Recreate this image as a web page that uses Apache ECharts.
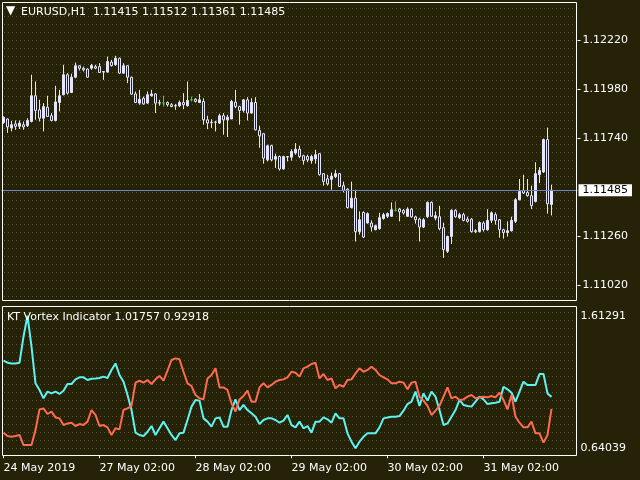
<!DOCTYPE html>
<html><head><meta charset="utf-8">
<script src="https://cdn.jsdelivr.net/npm/echarts@6/dist/echarts.min.js"></script>
<style>html,body{margin:0;padding:0;background:#252208;}#c{width:640px;height:480px;}</style>
</head><body><div id="c"></div>
<script>
// ---------- data ----------
const symbolTitle = 'EURUSD,H1';
const lastOHLC = ['1.11415', '1.11512', '1.11361', '1.11485'];
const indicatorTitle = 'KT Vortex Indicator';
const indicatorLast = ['1.01757', '0.92918'];
const priceTicks = [1.11020, 1.11260, 1.11740, 1.11980, 1.12220];
const currentPrice = 1.11485;
const indicatorTicks = [0.64039, 1.61291];
const timeLabels = {0: '24 May 2019', 24: '27 May 02:00', 48: '28 May 02:00', 72: '29 May 02:00', 96: '30 May 02:00', 120: '31 May 02:00'};
const slotCount = 144;
// [open, close, low, high]
const ohlc = [
[1.11817,1.11842,1.11810,1.11847],[1.11834,1.11795,1.11766,1.11836],[1.11790,1.11806,1.11773,1.11825],[1.11810,1.11798,1.11781,1.11827],
[1.11798,1.11814,1.11785,1.11827],[1.11806,1.11795,1.11781,1.11822],[1.11801,1.11827,1.11795,1.11838],[1.11822,1.11948,1.11817,1.12051],
[1.11948,1.11876,1.11830,1.12018],[1.11879,1.11838,1.11822,1.11928],[1.11838,1.11895,1.11773,1.11912],[1.11892,1.11846,1.11846,1.11948],
[1.11850,1.11827,1.11822,1.11863],[1.11827,1.11918,1.11822,1.11997],[1.11915,1.11948,1.11871,1.11977],[1.11953,1.12051,1.11950,1.12100],
[1.12051,1.11961,1.11953,1.12059],[1.11964,1.12039,1.11961,1.12056],[1.12039,1.12095,1.12034,1.12111],[1.12095,1.12083,1.12072,1.12097],
[1.12083,1.12075,1.12067,1.12091],[1.12079,1.12039,1.12037,1.12083],[1.12083,1.12096,1.12075,1.12104],[1.12091,1.12083,1.12078,1.12100],
[1.12091,1.12062,1.12062,1.12108],[1.12067,1.12064,1.12026,1.12069],[1.12064,1.12116,1.12062,1.12140],[1.12113,1.12096,1.12091,1.12124],
[1.12100,1.12132,1.12095,1.12144],[1.12132,1.12059,1.12056,1.12135],[1.12059,1.12095,1.12056,1.12108],[1.12095,1.12039,1.12010,1.12098],
[1.12039,1.11956,1.11953,1.12042],[1.11957,1.11915,1.11912,1.11969],[1.11912,1.11931,1.11904,1.11977],[1.11936,1.11908,1.11904,1.11944],
[1.11912,1.11953,1.11908,1.11969],[1.11948,1.11957,1.11944,1.11977],[1.11957,1.11912,1.11863,1.11960],[1.11912,1.11914,1.11899,1.11928],
[1.11913,1.11913,1.11895,1.11948],[1.11915,1.11904,1.11895,1.11920],[1.11904,1.11895,1.11892,1.11912],[1.11898,1.11899,1.11879,1.11908],
[1.11899,1.11915,1.11892,1.11925],[1.11915,1.11904,1.11882,1.11961],[1.11899,1.11925,1.11895,1.12018],[1.11928,1.11928,1.11920,1.11944],
[1.11931,1.11920,1.11915,1.11936],[1.11915,1.11928,1.11912,1.11957],[1.11920,1.11830,1.11806,1.11936],[1.11830,1.11814,1.11784,1.11850],
[1.11816,1.11818,1.11790,1.11833],[1.11818,1.11819,1.11773,1.11825],[1.11814,1.11850,1.11810,1.11860],[1.11850,1.11830,1.11757,1.11863],
[1.11830,1.11843,1.11746,1.11855],[1.11834,1.11920,1.11834,1.11928],[1.11917,1.11895,1.11887,1.11977],[1.11895,1.11876,1.11806,1.11899],
[1.11876,1.11928,1.11866,1.11931],[1.11928,1.11863,1.11827,1.11941],[1.11863,1.11915,1.11860,1.11936],[1.11915,1.11781,1.11778,1.11941],
[1.11778,1.11752,1.11693,1.11801],[1.11762,1.11642,1.11615,1.11765],[1.11634,1.11703,1.11626,1.11708],[1.11703,1.11634,1.11626,1.11708],
[1.11637,1.11650,1.11594,1.11664],[1.11650,1.11589,1.11581,1.11655],[1.11589,1.11650,1.11585,1.11654],[1.11650,1.11647,1.11626,1.11651],
[1.11647,1.11675,1.11630,1.11686],[1.11667,1.11686,1.11659,1.11716],[1.11686,1.11650,1.11642,1.11703],[1.11654,1.11630,1.11610,1.11659],
[1.11650,1.11634,1.11622,1.11659],[1.11630,1.11650,1.11615,1.11659],[1.11638,1.11659,1.11615,1.11683],[1.11664,1.11561,1.11556,1.11667],
[1.11566,1.11528,1.11507,1.11568],[1.11541,1.11516,1.11507,1.11561],[1.11538,1.11554,1.11487,1.11571],[1.11551,1.11566,1.11544,1.11585],
[1.11566,1.11503,1.11503,1.11570],[1.11507,1.11484,1.11474,1.11527],[1.11490,1.11400,1.11395,1.11495],[1.11400,1.11446,1.11395,1.11527],
[1.11446,1.11282,1.11233,1.11487],[1.11282,1.11340,1.11267,1.11381],[1.11376,1.11255,1.11250,1.11381],[1.11324,1.11370,1.11321,1.11376],
[1.11324,1.11304,1.11282,1.11337],[1.11291,1.11311,1.11288,1.11316],[1.11296,1.11350,1.11291,1.11374],[1.11346,1.11365,1.11340,1.11374],
[1.11357,1.11370,1.11348,1.11376],[1.11357,1.11389,1.11354,1.11425],[1.11386,1.11386,1.11381,1.11430],[1.11392,1.11379,1.11332,1.11398],
[1.11386,1.11373,1.11365,1.11392],[1.11357,1.11392,1.11354,1.11401],[1.11392,1.11354,1.11350,1.11397],[1.11354,1.11340,1.11321,1.11360],
[1.11343,1.11304,1.11233,1.11350],[1.11304,1.11340,1.11299,1.11348],[1.11355,1.11425,1.11348,1.11430],[1.11425,1.11357,1.11354,1.11430],
[1.11348,1.11360,1.11337,1.11381],[1.11355,1.11296,1.11288,1.11408],[1.11301,1.11193,1.11153,1.11326],[1.11185,1.11258,1.11177,1.11262],
[1.11258,1.11386,1.11221,1.11392],[1.11386,1.11355,1.11350,1.11392],[1.11350,1.11365,1.11343,1.11374],[1.11365,1.11337,1.11332,1.11374],
[1.11343,1.11332,1.11326,1.11355],[1.11343,1.11282,1.11277,1.11348],[1.11282,1.11286,1.11274,1.11294],[1.11282,1.11326,1.11277,1.11332],
[1.11324,1.11291,1.11282,1.11332],[1.11291,1.11337,1.11286,1.11392],[1.11337,1.11374,1.11324,1.11381],[1.11365,1.11337,1.11316,1.11376],
[1.11340,1.11291,1.11252,1.11343],[1.11291,1.11277,1.11247,1.11296],[1.11277,1.11286,1.11257,1.11332],[1.11286,1.11337,1.11282,1.11355],
[1.11332,1.11438,1.11324,1.11446],[1.11438,1.11479,1.11435,1.11540],[1.11484,1.11471,1.11466,1.11561],[1.11474,1.11458,1.11453,1.11540],
[1.11458,1.11409,1.11392,1.11507],[1.11430,1.11566,1.11425,1.11622],[1.11561,1.11582,1.11520,1.11598],[1.11574,1.11733,1.11569,1.11738],
[1.11733,1.11418,1.11370,1.11792],[1.11415,1.11485,1.11361,1.11512]
];
const viPlus = [
1.283,1.268,1.263,1.263,1.268,1.459,1.61291,1.386,1.117,1.068,1.007,1.056,1.043,1.056,1.039,1.063,
1.112,1.112,1.146,1.161,1.161,1.141,1.151,1.153,1.156,1.166,1.156,1.215,1.263,1.178,1.129,1.031,
0.921,0.755,0.738,0.730,0.762,0.804,0.738,0.787,0.836,0.787,0.738,0.701,0.750,0.755,0.848,0.946,
0.995,0.990,0.860,0.836,0.799,0.860,0.867,0.799,0.799,0.921,0.999,0.921,0.958,0.921,0.897,0.872,
0.818,0.848,0.860,0.860,0.848,0.828,0.843,0.885,0.811,0.794,0.836,0.787,0.804,0.755,0.836,0.836,
0.867,0.853,0.828,0.897,0.860,0.860,0.750,0.689,0.64039,0.689,0.725,0.750,0.750,0.750,0.794,0.860,
0.867,0.872,0.872,0.877,0.916,0.965,0.982,1.056,0.951,1.043,0.990,1.056,1.019,0.921,0.811,0.823,
0.872,0.921,0.995,0.958,0.951,0.946,0.982,1.019,0.999,0.965,0.970,0.975,0.982,1.092,1.073,1.048,
0.982,1.056,1.129,1.105,1.105,1.105,1.185,1.185,1.043,1.01757
];
const viMinus = [
0.755,0.730,0.725,0.730,0.738,0.664,0.664,0.664,0.774,0.926,0.933,0.892,0.909,0.867,0.860,0.811,
0.823,0.828,0.804,0.818,0.811,0.836,0.921,0.885,0.804,0.811,0.794,0.738,0.787,0.779,0.921,0.933,
0.951,1.122,1.136,1.122,1.141,1.112,1.146,1.171,1.136,1.210,1.288,1.300,1.293,1.202,1.117,1.097,
1.031,1.007,0.999,1.153,1.178,1.227,1.087,1.087,1.068,0.970,0.909,0.999,1.024,1.063,0.982,0.982,
1.087,1.117,1.087,1.105,1.129,1.141,1.146,1.161,1.202,1.195,1.166,1.227,1.239,1.259,1.268,1.153,
1.185,1.141,1.153,1.080,1.105,1.092,1.141,1.146,1.190,1.227,1.202,1.215,1.239,1.215,1.178,1.161,
1.146,1.117,1.117,1.129,1.122,1.073,1.122,1.129,1.019,0.990,0.951,0.885,0.916,0.951,1.019,1.087,
1.007,1.019,0.995,0.999,1.019,1.031,1.007,1.014,1.019,1.014,1.024,1.014,1.048,0.995,0.926,1.031,
0.872,0.828,0.794,0.794,0.836,0.750,0.750,0.682,0.738,0.92918
];

// ---------- style ----------
const BG = '#252208';
const FG = '#ffffff';
const CANDLE = '#e4e4fb';
const FONT = 'DejaVu Sans';
const cats = Array.from({length: slotCount}, (_, i) => 'b' + i);
const labelAt = (i) => timeLabels[i] !== undefined;

function dotCanvas() {
  const c = document.createElement('canvas');
  c.width = 8; c.height = 8;
  const g = c.getContext('2d');
  g.fillStyle = BG; g.fillRect(0, 0, 8, 8);
  g.fillStyle = '#5a573d';
  g.fillRect(0, 0, 1, 1); g.fillRect(4, 0, 1, 1);
  return c;
}
const pattern = {image: dotCanvas(), repeat: 'repeat'};

const chart = echarts.init(document.getElementById('c'), null, {renderer: 'canvas'});
chart.setOption({
  animation: false,
  backgroundColor: BG,
  textStyle: {fontFamily: FONT},
  grid: [
    {left: 1.5, top: 2, width: 576, height: 299},
    {left: 1.5, top: 315.7, width: 576, height: 132.6}
  ],
  xAxis: [
    {type: 'category', gridIndex: 0, data: cats, boundaryGap: true,
     axisLine: {show: false}, axisTick: {show: false}, axisLabel: {show: false}, splitLine: {show: false}},
    {type: 'category', gridIndex: 1, data: cats, boundaryGap: true, offset: 7,
     axisLine: {show: false},
     axisTick: {show: true, alignWithLabel: true, interval: (i) => labelAt(i), length: 3, lineStyle: {color: FG}},
     axisLabel: {show: true, interval: (i) => labelAt(i), formatter: (v, i) => timeLabels[i] || '',
       align: 'left', color: FG, fontFamily: FONT, fontSize: 11, margin: 7},
     splitLine: {show: false}}
  ],
  yAxis: [
    {type: 'value', gridIndex: 0, position: 'right', min: 1.109415, max: 1.124078,
     axisLine: {show: false}, splitLine: {show: false},
     axisTick: {show: true, length: 3, customValues: priceTicks, lineStyle: {color: FG}},
     axisLabel: {customValues: priceTicks, formatter: (v) => v.toFixed(5), color: FG, fontFamily: FONT, fontSize: 11, margin: 5}},
    {type: 'value', gridIndex: 1, position: 'right', min: indicatorTicks[0], max: indicatorTicks[1],
     axisLine: {show: false}, splitLine: {show: false}, axisTick: {show: false},
     axisLabel: {customValues: indicatorTicks, formatter: (v) => v.toFixed(5), color: FG, fontFamily: FONT, fontSize: 11, margin: 3}}
  ],
  series: [
    {type: 'candlestick', xAxisIndex: 0, yAxisIndex: 0, data: ohlc, barWidth: 3,
     itemStyle: {color: CANDLE, color0: BG, borderColor: CANDLE, borderColor0: CANDLE, borderColorDoji: '#00ff00', borderWidth: 1}},
    {type: 'line', name: 'price', xAxisIndex: 0, yAxisIndex: 0, data: [], symbol: 'none', z: 1,
     markLine: {silent: true, symbol: ['none', 'none'], animation: false, precision: 5,
       lineStyle: {color: '#6d87c6', width: 1, type: 'solid'},
       label: {show: true, position: 'end', formatter: currentPrice.toFixed(5), color: '#000', backgroundColor: '#fff',
         padding: [1, 4, 0, 4], fontFamily: FONT, fontSize: 11, distance: 1},
       data: [{yAxis: currentPrice}]}},
    {type: 'line', xAxisIndex: 1, yAxisIndex: 1, data: viPlus, showSymbol: false, symbol: 'none',
     lineStyle: {color: '#5ef3f0', width: 2}},
    {type: 'line', xAxisIndex: 1, yAxisIndex: 1, data: viMinus, showSymbol: false, symbol: 'none',
     lineStyle: {color: '#ff6b50', width: 2}}
  ],
  graphic: [
    {type: 'rect', z: -10, silent: true, shape: {x: 2, y: 2, width: 575, height: 299}, style: {fill: pattern}},
    {type: 'rect', z: -10, silent: true, shape: {x: 2, y: 306, width: 575, height: 150}, style: {fill: pattern}},
    {type: 'rect', z: 50, silent: true, shape: {x: 2.5, y: 2.5, width: 574, height: 298}, style: {fill: null, stroke: FG, lineWidth: 1}},
    {type: 'rect', z: 50, silent: true, shape: {x: 2.5, y: 306.5, width: 574, height: 149}, style: {fill: null, stroke: FG, lineWidth: 1}},
    {type: 'text', z: 60, silent: true, style: {x: 6, y: 11, text: '\u25BC', fill: FG, font: '12px "DejaVu Sans"', verticalAlign: 'middle'}},
    {type: 'text', z: 60, silent: true, style: {x: 21, y: 12, text: symbolTitle + '  ' + lastOHLC.join(' '), fill: FG, font: '11px "DejaVu Sans"', verticalAlign: 'middle'}},
    {type: 'text', z: 60, silent: true, style: {x: 7, y: 317, text: indicatorTitle + ' ' + indicatorLast.join(' '), fill: FG, font: '11px "DejaVu Sans"', verticalAlign: 'middle'}}
  ]
});
</script>
</body></html>
